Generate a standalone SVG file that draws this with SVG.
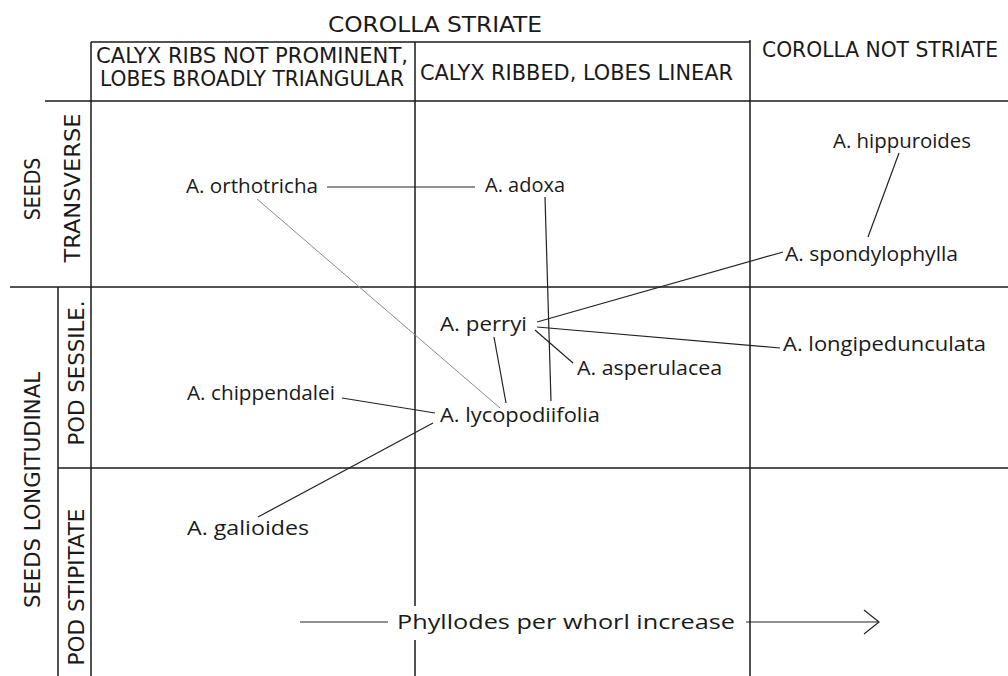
<svg xmlns="http://www.w3.org/2000/svg" width="1008" height="676" viewBox="0 0 1008 676">
<defs>
<style>
.grid{stroke:#1a1a1a;stroke-width:1.5;fill:none}
.con{stroke:#222;stroke-width:1.2;fill:none}
.faint{stroke:#8a8a8a;stroke-width:1;fill:none}
.hdr{font-family:"DejaVu Sans Condensed","DejaVu Sans",sans-serif;font-size:22px;fill:#1a1a1a}
.sp{font-family:"Open Sans","Noto Sans",sans-serif;font-size:20px;fill:#1a1a1a}
.lbl{font-family:"DejaVu Sans Condensed","DejaVu Sans",sans-serif;font-size:21px;fill:#1a1a1a}
</style>
</defs>
<rect width="1008" height="676" fill="#fff"/>
<g id="grid">
<line class="grid" x1="91" y1="42" x2="750" y2="42"/>
<line class="grid" x1="45" y1="101" x2="1008" y2="101"/>
<line class="grid" x1="10" y1="287" x2="1008" y2="287"/>
<line class="grid" x1="58" y1="468" x2="1008" y2="468"/>
<line class="grid" x1="91" y1="42" x2="91" y2="676"/>
<line class="grid" x1="415" y1="42" x2="415" y2="606"/>
<line class="grid" x1="415" y1="640" x2="415" y2="676"/>
<line class="grid" x1="750" y1="40" x2="750" y2="676"/>
<line class="grid" x1="58" y1="287" x2="58" y2="676"/>
</g>
<g id="headers">
<text class="hdr" x="328" y="32" textLength="214" lengthAdjust="spacingAndGlyphs">COROLLA STRIATE</text>
<text class="hdr" x="96" y="63" textLength="312" lengthAdjust="spacingAndGlyphs">CALYX RIBS NOT PROMINENT,</text>
<text class="hdr" x="100" y="86" textLength="304" lengthAdjust="spacingAndGlyphs">LOBES BROADLY TRIANGULAR</text>
<text class="hdr" x="420" y="80" textLength="313" lengthAdjust="spacingAndGlyphs">CALYX RIBBED, LOBES LINEAR</text>
<text class="hdr" x="762" y="57" textLength="236" lengthAdjust="spacingAndGlyphs">COROLLA NOT STRIATE</text>
</g>
<g id="row-labels">
<text class="lbl" transform="translate(40,189) rotate(-90)" text-anchor="middle">SEEDS</text>
<text class="lbl" transform="translate(80,188) rotate(-90)" text-anchor="middle" textLength="149" lengthAdjust="spacingAndGlyphs">TRANSVERSE</text>
<text class="lbl" transform="translate(40,490) rotate(-90)" text-anchor="middle" textLength="236" lengthAdjust="spacingAndGlyphs">SEEDS LONGITUDINAL</text>
<text class="lbl" transform="translate(84,373) rotate(-90)" text-anchor="middle" textLength="145" lengthAdjust="spacingAndGlyphs">POD SESSILE.</text>
<text class="lbl" transform="translate(84,587) rotate(-90)" text-anchor="middle" textLength="157" lengthAdjust="spacingAndGlyphs">POD STIPITATE</text>
</g>
<g id="connectors">
<line class="con" x1="327" y1="187" x2="475" y2="187"/>
<line class="faint" x1="257" y1="199" x2="500" y2="408"/>
<line class="con" x1="545" y1="197" x2="551" y2="401"/>
<line class="con" x1="494" y1="337" x2="506" y2="403"/>
<line class="con" x1="535" y1="330" x2="573" y2="363"/>
<line class="con" x1="537" y1="322" x2="783" y2="252"/>
<line class="con" x1="537" y1="327" x2="780" y2="348"/>
<line class="con" x1="899" y1="153" x2="868" y2="237"/>
<line class="con" x1="342" y1="398" x2="435" y2="413"/>
<line class="con" x1="258" y1="517" x2="433" y2="423"/>
</g>
<g id="n-orthotricha"><text class="sp" x="186" y="193" textLength="132" lengthAdjust="spacingAndGlyphs">A. orthotricha</text></g>
<g id="n-adoxa"><text class="sp" x="485" y="192" textLength="80" lengthAdjust="spacingAndGlyphs">A. adoxa</text></g>
<g id="n-hippuroides"><text class="sp" x="833" y="148" textLength="138" lengthAdjust="spacingAndGlyphs">A. hippuroides</text></g>
<g id="n-spondylophylla"><text class="sp" x="785" y="261" textLength="173" lengthAdjust="spacingAndGlyphs">A. spondylophylla</text></g>
<g id="n-perryi"><text class="sp" x="440" y="331" textLength="87" lengthAdjust="spacingAndGlyphs">A. perryi</text></g>
<g id="n-asperulacea"><text class="sp" x="577" y="375" textLength="145" lengthAdjust="spacingAndGlyphs">A. asperulacea</text></g>
<g id="n-longipedunculata"><text class="sp" x="783" y="351" textLength="203" lengthAdjust="spacingAndGlyphs">A. longipedunculata</text></g>
<g id="n-chippendalei"><text class="sp" x="187" y="400" textLength="148" lengthAdjust="spacingAndGlyphs">A. chippendalei</text></g>
<g id="n-lycopodiifolia"><text class="sp" x="440" y="422" textLength="160" lengthAdjust="spacingAndGlyphs">A. lycopodiifolia</text></g>
<g id="n-galioides"><text class="sp" x="187" y="535" textLength="122" lengthAdjust="spacingAndGlyphs">A. galioides</text></g>
<g id="axis">
<line class="con" x1="300" y1="622" x2="388" y2="622"/>
<text class="sp" x="397" y="629" textLength="338" lengthAdjust="spacingAndGlyphs">Phyllodes per whorl increase</text>
<line class="con" x1="746" y1="622" x2="879" y2="622"/>
<polyline class="con" points="864,610 879,622 864,634"/>
</g>
</svg>
